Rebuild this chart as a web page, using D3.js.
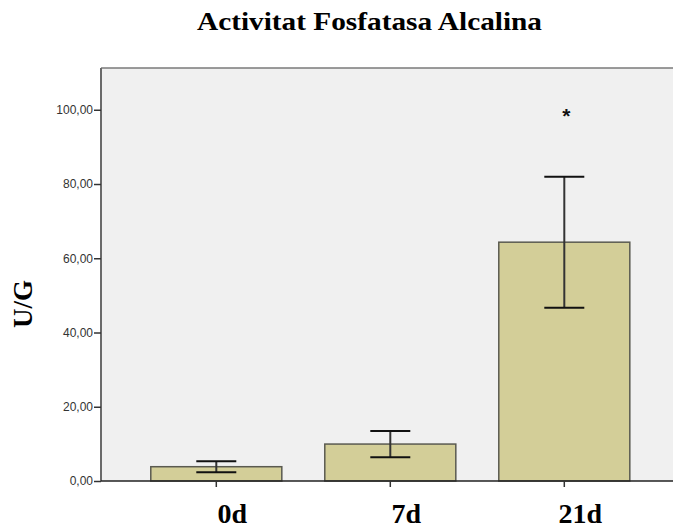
<!DOCTYPE html>
<html>
<head>
<meta charset="utf-8">
<script src="https://cdn.jsdelivr.net/npm/d3@7/dist/d3.min.js"></script>
<style>
  html, body { margin: 0; padding: 0; background: #ffffff; }
  svg { display: block; }
</style>
</head>
<body>
<svg id="chart" width="673" height="528"></svg>
<script>
// Alkaline phosphatase activity by day (mean ± error)
const categories = ["0d", "7d", "21d"];
const means      = [3.85, 9.95, 64.33];
const errors     = [1.5, 3.55, 17.65];
const yTicks     = [0, 20, 40, 60, 80, 100];
const marked     = ["21d"];          // groups flagged with an asterisk

const svg = d3.select("#chart");
const plot = { left: 101, top: 68, right: 680, bottom: 481 };

const y = d3.scaleLinear().domain([0, 111.25]).range([plot.bottom, plot.top]);
const x = d3.scaleBand().domain(categories)
  .range([129.3, 651.3]).paddingInner(0.247).paddingOuter(0.1235);

// plot background
svg.append("rect")
  .attr("x", plot.left).attr("y", plot.top)
  .attr("width", plot.right - plot.left).attr("height", plot.bottom - plot.top)
  .attr("fill", "#f0f0f0");

// top frame line
svg.append("line")
  .attr("x1", plot.left).attr("x2", plot.right)
  .attr("y1", plot.top).attr("y2", plot.top)
  .attr("stroke", "#7a7a7a").attr("stroke-width", 1.5);

// bars
svg.append("g").selectAll("rect").data(categories).join("rect")
  .attr("x", d => x(d)).attr("width", x.bandwidth())
  .attr("y", (d, i) => y(means[i]))
  .attr("height", (d, i) => y(0) - y(means[i]))
  .attr("fill", "#d3ce98")
  .attr("stroke", "#5a5a50").attr("stroke-width", 1.5);

// error bars
const capW = 40;
const eb = svg.append("g");
categories.forEach((c, i) => {
  const cx = x(c) + x.bandwidth() / 2;
  const hi = y(means[i] + errors[i]), lo = y(means[i] - errors[i]);
  eb.append("line").attr("x1", cx).attr("x2", cx).attr("y1", hi).attr("y2", lo)
    .attr("stroke", "#333").attr("stroke-width", 2);
  [hi, lo].forEach(v => {
    eb.append("line").attr("x1", cx - capW / 2).attr("x2", cx + capW / 2)
      .attr("y1", v).attr("y2", v)
      .attr("stroke", "#111").attr("stroke-width", 2);
  });
});

// significance markers
svg.append("g").selectAll("text").data(marked).join("text")
  .attr("x", d => x(d) + x.bandwidth() / 2 + 2)
  .attr("y", 123)
  .attr("text-anchor", "middle")
  .attr("font-family", "Liberation Sans, Arial, sans-serif")
  .attr("font-weight", "bold")
  .attr("font-size", 21)
  .attr("fill", "#111")
  .text("*");

// y axis
const fmt = v => d3.format(".2f")(v).replace(".", ",");
const yAxis = svg.append("g")
  .attr("transform", `translate(${plot.left},0)`)
  .call(d3.axisLeft(y).tickValues(yTicks).tickFormat(fmt).tickSize(7).tickSizeOuter(0));
yAxis.select(".domain").attr("stroke", "#6a6a6a").attr("stroke-width", 2)
  .attr("d", `M0,${plot.top}V${plot.bottom}`);
yAxis.selectAll(".tick line").attr("stroke", "#333").attr("stroke-width", 1.5);
yAxis.selectAll(".tick text")
  .attr("font-family", "Liberation Sans, Arial, sans-serif")
  .attr("font-size", 12).attr("fill", "#333").attr("x", -8);

// x axis (category labels sit slightly right of the tick)
const xAxis = svg.append("g")
  .attr("transform", `translate(0,${plot.bottom})`)
  .call(d3.axisBottom(x).tickSize(6).tickSizeOuter(0));
xAxis.select(".domain").attr("stroke", "#222").attr("stroke-width", 1.5)
  .attr("d", `M${plot.left},0H${plot.right}`);
xAxis.selectAll(".tick line").attr("stroke", "#333").attr("stroke-width", 1.5);
xAxis.selectAll(".tick text")
  .attr("font-family", "Liberation Serif, Times New Roman, serif")
  .attr("font-weight", "bold").attr("font-size", 28).attr("fill", "#000")
  .attr("dy", null).attr("x", 16).attr("y", 42);

// title
svg.append("text")
  .attr("x", 369.5).attr("y", 30)
  .attr("text-anchor", "middle")
  .attr("font-family", "Liberation Serif, Times New Roman, serif")
  .attr("font-weight", "bold").attr("font-size", 26)
  .attr("textLength", 345).attr("lengthAdjust", "spacingAndGlyphs")
  .text("Activitat Fosfatasa Alcalina");

// y axis title
svg.append("text")
  .attr("transform", "translate(32,304) rotate(-90)")
  .attr("text-anchor", "middle")
  .attr("font-family", "Liberation Serif, Times New Roman, serif")
  .attr("font-weight", "bold").attr("font-size", 27)
  .text("U/G");
</script>
</body>
</html>
